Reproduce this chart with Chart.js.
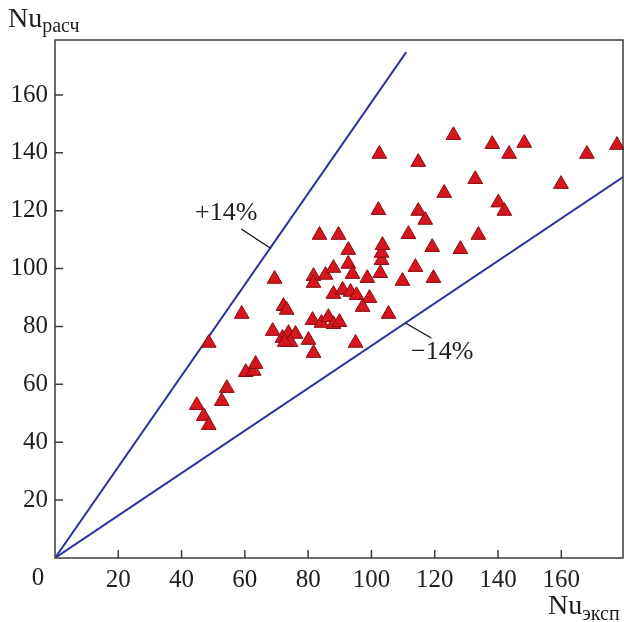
<!DOCTYPE html>
<html><head><meta charset="utf-8">
<script src="https://cdn.jsdelivr.net/npm/chart.js@4"></script>
<style>html,body{margin:0;padding:0;background:#fff;}</style>
</head><body>
<canvas id="c" width="624" height="622"></canvas>
<script>
const xExp = [44.8,47.0,48.6,48.6,52.7,54.3,60.3,62.8,63.4,59.0,
  69.4,72.2,73.2,68.8,71.9,73.8,76.0,74.4,72.6,80.1,
  81.7,81.4,84.2,86.4,88.0,89.9,83.6,89.6,81.7,81.7,
  85.5,88.0,92.7,92.7,94.0,98.7,102.8,103.2,103.2,103.5,
  88.0,90.9,93.4,95.3,99.4,97.2,95.0,105.4,109.8,113.9,
  119.6,119.2,128.1,133.8,111.7,102.2,114.8,117.0,123.0,102.5,
  114.8,125.9,132.8,138.2,143.5,148.3,140.1,142.0,159.9,168.1,
  177.6];
const yCalc = [52.8,49.0,45.9,74.3,54.2,58.7,64.2,64.6,67.0,84.3,
  96.4,87.0,85.7,78.4,76.0,77.7,77.4,74.6,74.6,75.3,
  70.8,82.2,81.2,83.2,80.8,81.5,111.6,111.6,97.4,95.0,
  97.8,100.2,106.4,101.6,98.1,96.7,98.4,102.9,105.4,108.1,
  91.2,92.6,91.9,90.8,89.8,86.7,74.3,84.3,95.7,100.5,
  96.7,107.4,106.7,111.6,111.9,120.2,119.9,116.8,126.1,139.6,
  136.8,146.1,130.9,143.0,139.6,143.4,122.8,119.9,129.2,139.6,
  142.7];
const upperX = [0, 111];
const upperY = [0, 174.8];
const lowerX = [0, 179.5];
const lowerY = [0, 131.6];
const xTickVals = [20,40,60,80,100,120,140,160];
const yTickVals = [20,40,60,80,100,120,140,160];
const upperLabel = '+14%';
const lowerLabel = '\u221214%';
const upperLeaderAt = [68, 107.1];
const lowerLeaderAt = [110.7, 81.2];

const SERIF = '"Liberation Serif", "Times New Roman", serif';
const toPts = (xs, ys) => xs.map((x, i) => ({x, y: ys[i]}));

const decor = {
  id: 'decor',
  afterDraw(chart) {
    const {ctx, chartArea: a, scales: {x, y}} = chart;
    ctx.save();
    ctx.strokeStyle = '#3a3a3a';
    ctx.lineWidth = 1.5;
    ctx.strokeRect(a.left, a.top, a.right - a.left, a.bottom - a.top);
    ctx.beginPath();
    xTickVals.forEach(v => { const p = x.getPixelForValue(v); ctx.moveTo(p, a.bottom); ctx.lineTo(p, a.bottom - 8); });
    yTickVals.forEach(v => { const p = y.getPixelForValue(v); ctx.moveTo(a.left, p); ctx.lineTo(a.left + 8, p); });
    ctx.stroke();

    ctx.fillStyle = '#1e1e1e';
    ctx.font = '25px ' + SERIF;
    ctx.textAlign = 'center'; ctx.textBaseline = 'middle';
    ctx.fillText('0', x.getPixelForValue(0) - 17, 578);

    // axis titles
    ctx.textAlign = 'left'; ctx.textBaseline = 'alphabetic';
    ctx.font = '28px ' + SERIF;
    ctx.fillText('Nu', 8, 27);
    let w = ctx.measureText('Nu').width;
    ctx.font = '20px ' + SERIF;
    ctx.fillText('расч', 8 + w, 32);
    ctx.font = '28px ' + SERIF;
    ctx.fillText('Nu', 548, 614);
    w = ctx.measureText('Nu').width;
    ctx.font = '20px ' + SERIF;
    ctx.fillText('эксп', 548 + w, 620);

    // deviation labels
    ctx.strokeStyle = '#111'; ctx.lineWidth = 1.3;
    const ux = x.getPixelForValue(upperLeaderAt[0]), uy = y.getPixelForValue(upperLeaderAt[1]);
    ctx.beginPath(); ctx.moveTo(ux, uy); ctx.lineTo(ux - 29, uy - 19); ctx.stroke();
    const lx = x.getPixelForValue(lowerLeaderAt[0]), ly = y.getPixelForValue(lowerLeaderAt[1]);
    ctx.beginPath(); ctx.moveTo(lx, ly); ctx.lineTo(lx + 26, ly + 15); ctx.stroke();
    ctx.font = '26px ' + SERIF;
    ctx.textBaseline = 'middle';
    ctx.fillText(upperLabel, 195, 213);
    ctx.fillText(lowerLabel, 411, 352);
    ctx.restore();
  }
};

const tickFont = {family: SERIF, size: 25};
new Chart(document.getElementById('c'), {
  type: 'scatter',
  data: {
    datasets: [
      {type: 'line', data: toPts(upperX, upperY), borderColor: 'rgb(45,52,160)', borderWidth: 2, pointRadius: 0, fill: false, order: 2},
      {type: 'line', data: toPts(lowerX, lowerY), borderColor: 'rgb(45,52,160)', borderWidth: 2, pointRadius: 0, fill: false, order: 2},
      {data: toPts(xExp, yCalc), pointStyle: 'triangle', pointRadius: 8.5, pointHoverRadius: 8.5,
       backgroundColor: 'rgb(212,22,30)', borderColor: 'rgb(140,10,15)', borderWidth: 1, order: 1, clip: false}
    ]
  },
  options: {
    responsive: false, animation: false, devicePixelRatio: 1,
    layout: {autoPadding: false, padding: {top: 40, right: 1, left: 0, bottom: 0}},
    plugins: {legend: {display: false}, tooltip: {enabled: false}},
    scales: {
      x: {type: 'linear', min: 0, max: 179.5,
          grid: {display: false, drawTicks: false}, border: {display: false},
          ticks: {stepSize: 20, includeBounds: false, autoSkip: false, maxRotation: 0, padding: 7, color: '#1e1e1e', font: tickFont,
                  callback: v => xTickVals.includes(v) ? String(v) : ''},
          afterFit: s => { s.height = 64; s.paddingLeft = 0; s.paddingRight = 0; }},
      y: {type: 'linear', min: 0, max: 179,
          grid: {display: false, drawTicks: false}, border: {display: false},
          ticks: {stepSize: 20, includeBounds: false, autoSkip: false, padding: 7, color: '#1e1e1e', font: tickFont,
                  callback: v => yTickVals.includes(v) ? String(v) : ''},
          afterFit: s => { s.width = 55; s.paddingTop = 0; s.paddingBottom = 0; }}
    }
  },
  plugins: [decor]
});
</script>
</body></html>
